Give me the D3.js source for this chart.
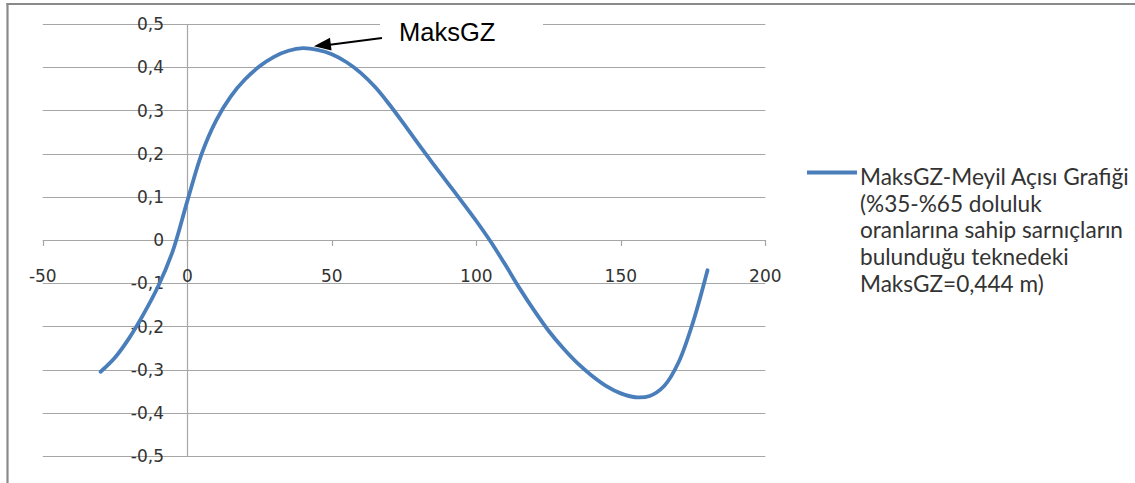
<!DOCTYPE html>
<html><head><meta charset="utf-8">
<script src="https://cdn.jsdelivr.net/npm/d3@7"></script>
<style>html,body{margin:0;padding:0;background:#fff;}svg{display:block;}</style>
</head><body>
<svg id="c" width="1135" height="483"></svg>
<script>
// Heel angle (degrees)
const angles = [-30,-25,-20,-15,-10,-5,0,5,10,15,20,25,30,35,40,45,50,55,60,65,70,75,80,85,90,95,100,105,110,115,120,125,130,135,140,145,150,155,160,165,170,175,180];
// GZ values (m)
const gz = [-0.305,-0.272,-0.226,-0.17,-0.106,-0.025,0.09,0.2,0.277,0.332,0.372,0.402,0.424,0.438,0.444,0.440,0.430,0.412,0.387,0.354,0.313,0.268,0.222,0.177,0.133,0.089,0.044,-0.004,-0.057,-0.112,-0.163,-0.21,-0.25,-0.285,-0.314,-0.338,-0.355,-0.364,-0.361,-0.338,-0.283,-0.19,-0.07];
const xTicks = [-50,0,50,100,150,200];
const yTicks = [-0.5,-0.4,-0.3,-0.2,-0.1,0,0.1,0.2,0.3,0.4,0.5];
const seriesName = ["MaksGZ-Meyil Açısı Grafiği","(%35-%65 doluluk","oranlarına sahip sarnıçların","bulunduğu teknedeki","MaksGZ=0,444 m)"];
const annotationText = "MaksGZ";
const peak = {angle: 40, gz: 0.444};

const svg = d3.select("#c");
const x = d3.scaleLinear().domain([-50,200]).range([42.8,765.3]);
const y = d3.scaleLinear().domain([-0.5,0.5]).range([456,24]);
const yfmt = v => (Math.abs(v) < 1e-9 ? "0" : d3.format(".1f")(v).replace(".", ",").replace("\u2212","-"));
const xfmt = v => String(v);

// frame
svg.append("line").attr("x1",7.5).attr("x2",7.5).attr("y1",3).attr("y2",483).attr("stroke","#8a8a8a").attr("stroke-width",2.2);
svg.append("line").attr("x1",6.5).attr("x2",1135).attr("y1",4).attr("y2",4).attr("stroke","#8a8a8a").attr("stroke-width",2.2);

// gridlines
svg.append("g").selectAll("line").data(yTicks).join("line")
  .attr("x1",x(-50)).attr("x2",x(200))
  .attr("y1",d=>Math.round(y(d))+0.5).attr("y2",d=>Math.round(y(d))+0.5)
  .attr("stroke","#a6a6a6").attr("stroke-width",1.2);

// y axis line
svg.append("line").attr("x1",Math.round(x(0))+0.5).attr("x2",Math.round(x(0))+0.5)
  .attr("y1",y(0.5)).attr("y2",y(-0.5)).attr("stroke","#a6a6a6").attr("stroke-width",1.2);

// x ticks (down)
svg.append("g").selectAll("line").data(xTicks).join("line")
  .attr("x1",d=>Math.round(x(d))+0.5).attr("x2",d=>Math.round(x(d))+0.5)
  .attr("y1",Math.round(y(0))).attr("y2",Math.round(y(0))+6)
  .attr("stroke","#a6a6a6").attr("stroke-width",1.2);

// y labels
svg.append("g").selectAll("text").data(yTicks).join("text")
  .attr("x",164).attr("y",d=>y(d)).attr("dy","0.36em")
  .attr("text-anchor","end").attr("font-family","DejaVu Sans").attr("font-size",17).attr("fill","#333")
  .text(yfmt);

// x labels
svg.append("g").selectAll("text").data(xTicks).join("text")
  .attr("x",d=>x(d)).attr("y",282)
  .attr("text-anchor","middle").attr("font-family","DejaVu Sans").attr("font-size",17).attr("fill","#333")
  .text(xfmt);

// curve
const data = angles.map((a,i)=>({a, v: gz[i]}));
svg.append("path").datum(data)
  .attr("fill","none").attr("stroke","#4a7ebb").attr("stroke-width",3.8).attr("stroke-linecap","round")
  .attr("d", d3.line().x(d=>x(d.a)).y(d=>y(d.v)).curve(d3.curveCatmullRom.alpha(0.5)));

// annotation
svg.append("rect").attr("x",380).attr("y",12).attr("width",163).attr("height",36).attr("fill","#fff");
svg.append("text").attr("x",399).attr("y",40.5).attr("font-family","Liberation Sans").attr("font-size",25.5).attr("fill","#000").text(annotationText);
const tipX = x(peak.angle) + 11, tipY = y(peak.gz) - 2;
svg.append("line").attr("x1",382).attr("y1",38).attr("x2",tipX+14).attr("y2",tipY-1.3).attr("stroke","#000").attr("stroke-width",2);
// arrowhead
const ang = Math.atan2(38 - tipY, 382 - tipX);
const L = 17, W = 6.5;
const bx = tipX + L*Math.cos(ang), by = tipY + L*Math.sin(ang);
const px = -Math.sin(ang)*W, py = Math.cos(ang)*W;
svg.append("path").attr("d",`M${tipX},${tipY}L${bx+px},${by+py}L${bx-px},${by-py}Z`).attr("fill","#000");

// legend
svg.append("line").attr("x1",807).attr("x2",857).attr("y1",172.5).attr("y2",172.5).attr("stroke","#4a7ebb").attr("stroke-width",3.8);
const lg = svg.append("text").attr("font-family","Lato").attr("font-size",22.6).attr("fill","#333");
lg.selectAll("tspan").data(seriesName).join("tspan").attr("x",860).attr("y",(d,i)=>185+i*26.7).text(d=>d);
</script>
</body></html>
